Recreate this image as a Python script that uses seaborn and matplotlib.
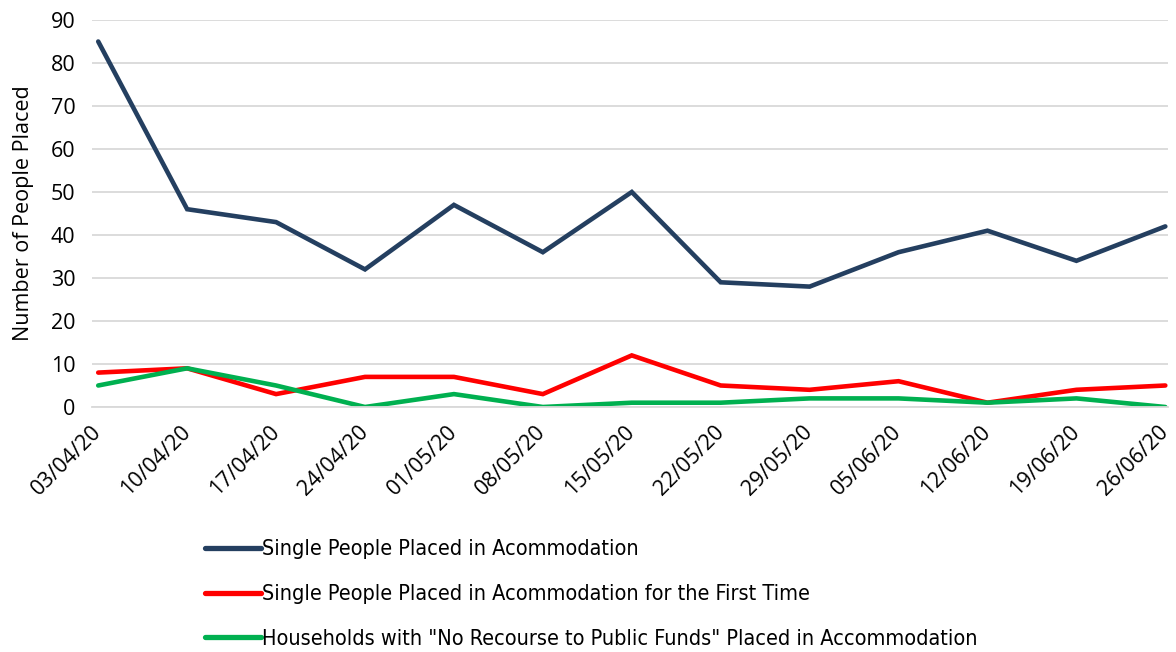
import numpy as np
import pandas as pd
import matplotlib
matplotlib.use("Agg")
import matplotlib.pyplot as plt
import seaborn as sns

# ========== data ==========
dates = ["03/04/20", "10/04/20", "17/04/20", "24/04/20", "01/05/20", "08/05/20", "15/05/20",
         "22/05/20", "29/05/20", "05/06/20", "12/06/20", "19/06/20", "26/06/20"]
single_placed = [85, 46, 43, 32, 47, 36, 50, 29, 28, 36, 41, 34, 42]
single_first_time = [8, 9, 3, 7, 7, 3, 12, 5, 4, 6, 1, 4, 5]
nrpf_households = [5, 9, 5, 0, 3, 0, 1, 1, 2, 2, 1, 2, 0]

series_names = ["Single People Placed in Acommodation",
                "Single People Placed in Acommodation for the First Time",
                'Households with "No Recourse to Public Funds" Placed in Accommodation']
series_colors = ["#243F60", "#FF0000", "#00B050"]

df = pd.DataFrame({
    "idx": list(range(len(dates))) * 3,
    "value": single_placed + single_first_time + nrpf_households,
    "series": [series_names[0]] * len(dates) + [series_names[1]] * len(dates) + [series_names[2]] * len(dates),
})

# ========== plot ==========
sns.set_theme(style="white")
plt.rcParams["font.family"] = ["Open Sans", "DejaVu Sans"]
plt.rcParams["text.color"] = "black"
plt.rcParams["axes.labelcolor"] = "black"
plt.rcParams["xtick.color"] = "black"
plt.rcParams["ytick.color"] = "black"

fig = plt.figure(figsize=(11.76, 6.52), dpi=100)
ax = fig.add_axes([92 / 1176, 1 - 407 / 652, (1168 - 92) / 1176, (407 - 20) / 652])

sns.lineplot(data=df, x="idx", y="value", hue="series", hue_order=series_names,
             palette=series_colors, linewidth=3.3, ax=ax, legend=True,
             solid_capstyle="round", solid_joinstyle="miter")

ax.set_xlim(-0.07, len(dates) - 1 + 0.03)
ax.set_ylim(0, 90)
ax.set_yticks(np.arange(0, 91, 10))
ax.yaxis.grid(True, color="#D9D9D9", linewidth=1.3)
ax.set_axisbelow(True)
for s in ["top", "right", "left"]:
    ax.spines[s].set_visible(False)
ax.spines["bottom"].set_color("#D9D9D9")
ax.spines["bottom"].set_linewidth(1.3)

ax.set_xticks(range(len(dates)))
ax.set_xticklabels(dates, rotation=45, ha="right", va="center", rotation_mode="anchor", fontsize=15.5)
ax.tick_params(axis="y", labelsize=15.5, pad=12, length=0)
ax.tick_params(axis="x", length=0, pad=16)
ax.set_xlabel("")
ax.set_ylabel("Number of People Placed", fontsize=15.5, labelpad=12)

leg = ax.legend(loc="upper left", bbox_to_anchor=(104 / 1076, -0.32), frameon=False,
                prop={"family": "DejaVu Sans", "stretch": "condensed", "size": 15.5},
                handlelength=2.6, handletextpad=0.08, labelspacing=1.15,
                borderaxespad=0)
for line in leg.get_lines():
    line.set_linewidth(3.8)

fig.savefig("out.png", dpi=100)
plt.close()
